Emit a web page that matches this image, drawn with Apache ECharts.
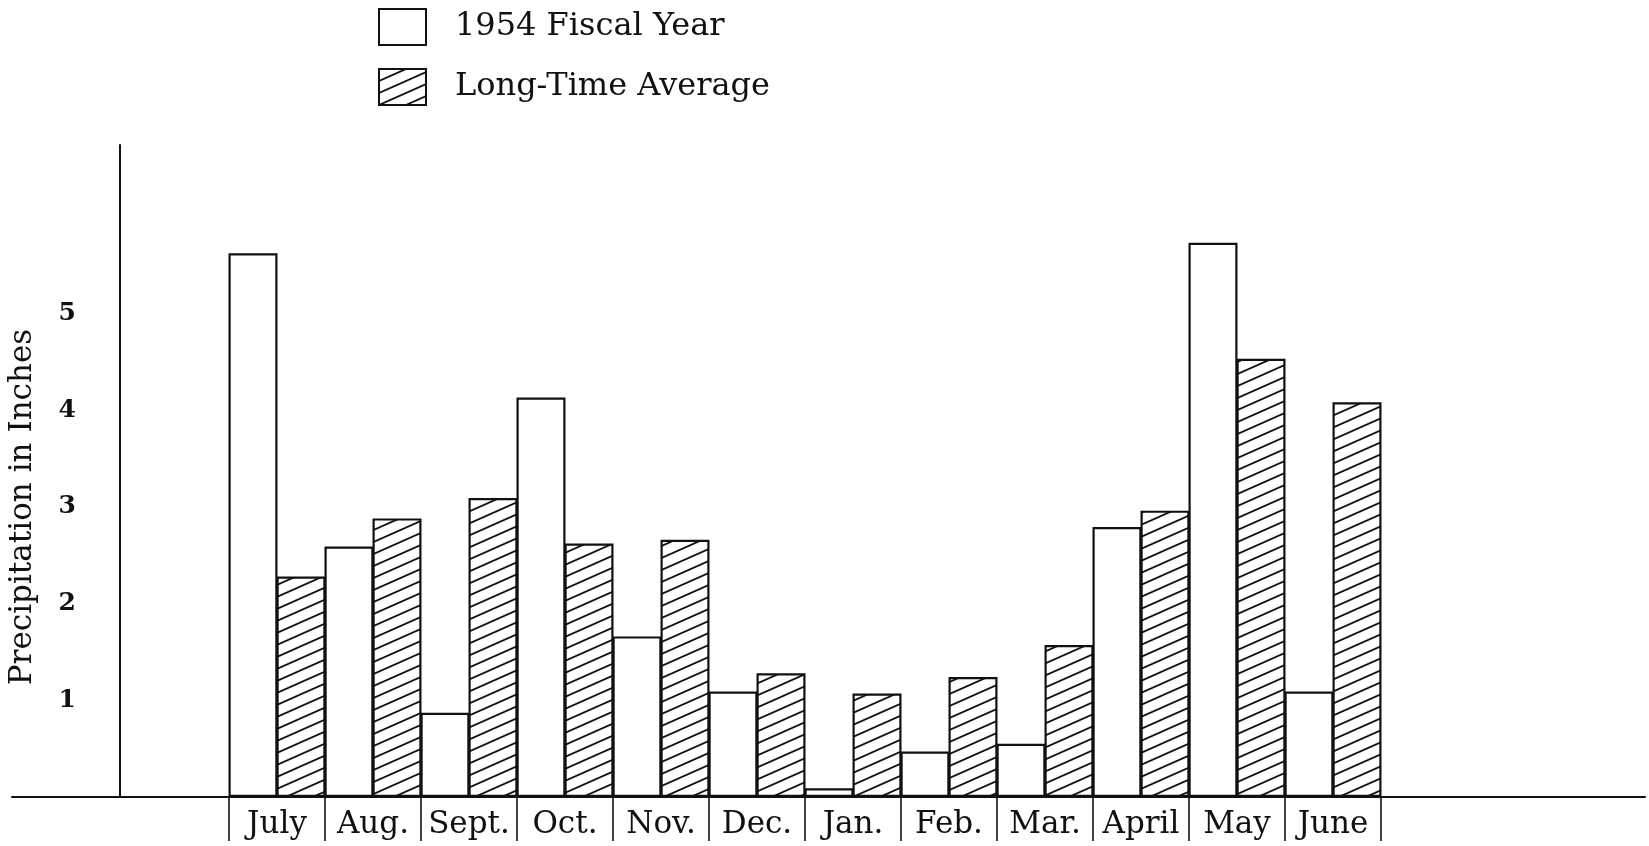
<!DOCTYPE html>
<html><head><meta charset="utf-8">
<script src="https://cdn.jsdelivr.net/npm/echarts@6/dist/echarts.min.js"></script>
<style>html,body{margin:0;padding:0;background:#fff}#c{width:1649px;height:846px}</style>
</head><body><div id="c"></div>
<script>
const months = ['July','Aug.','Sept.','Oct.','Nov.','Dec.','Jan.','Feb.','Mar.','April','May','June'];
const fiscal1954 = [5.62,2.59,0.87,4.13,1.66,1.09,0.09,0.47,0.55,2.79,5.73,1.09];
const longTimeAvg = [2.28,2.88,3.09,2.62,2.66,1.28,1.07,1.24,1.57,2.96,4.53,4.08];
const yTickLabels = ['1','2','3','4','5'];
const seriesNames = ['1954 Fiscal Year','Long-Time Average'];
const yTitle = 'Precipitation in Inches';

function hatch(){
  const w = 27, h = 12;
  const c = document.createElement('canvas'); c.width = w; c.height = h;
  const g = c.getContext('2d');
  g.fillStyle = '#fff'; g.fillRect(0,0,w,h);
  g.strokeStyle = '#111'; g.lineWidth = 1.8;
  for (const k of [0, h, 2*h]) {
    g.beginPath(); g.moveTo(-5, k + 5*h/w); g.lineTo(w+5, k - (w+5)*h/w); g.stroke();
  }
  return c;
}
const serif = 'DejaVu Serif';
const chart = echarts.init(document.getElementById('c'));
chart.setOption({
  animation: false,
  backgroundColor: '#fff',
  legend: {
    orient: 'vertical', left: 373, top: 3, itemWidth: 47, itemHeight: 36, itemGap: 22,
    icon: 'rect',
    textStyle: {fontFamily: serif, fontSize: 32, color: '#111', padding: [0,0,0,24]},
    data: seriesNames
  },
  graphic: [{
    type: 'text', x: 23, y: 507, rotation: Math.PI/2,
    style: {text: yTitle, font: '31px "DejaVu Serif"', textAlign: 'center', textVerticalAlign: 'middle', fill: '#111'}
  }],
  grid: [
    {left: 229, right: 268, top: 145, bottom: 49},
    {left: 12, right: 4, top: 145, bottom: 49}
  ],
  xAxis: [
    {type: 'category', gridIndex: 0, data: months,
     axisLine: {show: true, lineStyle: {color: '#111', width: 2}},
     axisTick: {show: true, interval: 0, length: 44, lineStyle: {color: '#111', width: 1.6}},
     axisLabel: {show: true, interval: 0, margin: 12, fontFamily: serif, fontSize: 31, color: '#111'}},
    {type: 'value', gridIndex: 1, min: 0, max: 1,
     axisLine: {show: true, lineStyle: {color: '#111', width: 2}},
     axisTick: {show: false}, axisLabel: {show: false}, splitLine: {show: false}}
  ],
  yAxis: [
    {type: 'value', gridIndex: 0, min: 0, max: 6.74, interval: 1, offset: 109,
     axisLine: {show: true, lineStyle: {color: '#111', width: 2}},
     axisTick: {show: false}, splitLine: {show: false},
     axisLabel: {margin: 44, fontFamily: serif, fontSize: 25, fontWeight: 'bold', color: '#111',
       formatter: v => yTickLabels.includes(String(v)) ? String(v) : ''}},
    {type: 'value', gridIndex: 1, min: 0, max: 1, show: false}
  ],
  series: [
    {name: seriesNames[0], type: 'bar', xAxisIndex: 0, yAxisIndex: 0, data: fiscal1954,
     barWidth: 49, barGap: '-2%',
     itemStyle: {color: '#fff', borderColor: '#111', borderWidth: 2.2}},
    {name: seriesNames[1], type: 'bar', xAxisIndex: 0, yAxisIndex: 0, data: longTimeAvg,
     barWidth: 49, barGap: '-2%',
     itemStyle: {color: {image: hatch(), repeat: 'repeat'}, borderColor: '#111', borderWidth: 2.2}}
  ]
});
</script></body></html>
